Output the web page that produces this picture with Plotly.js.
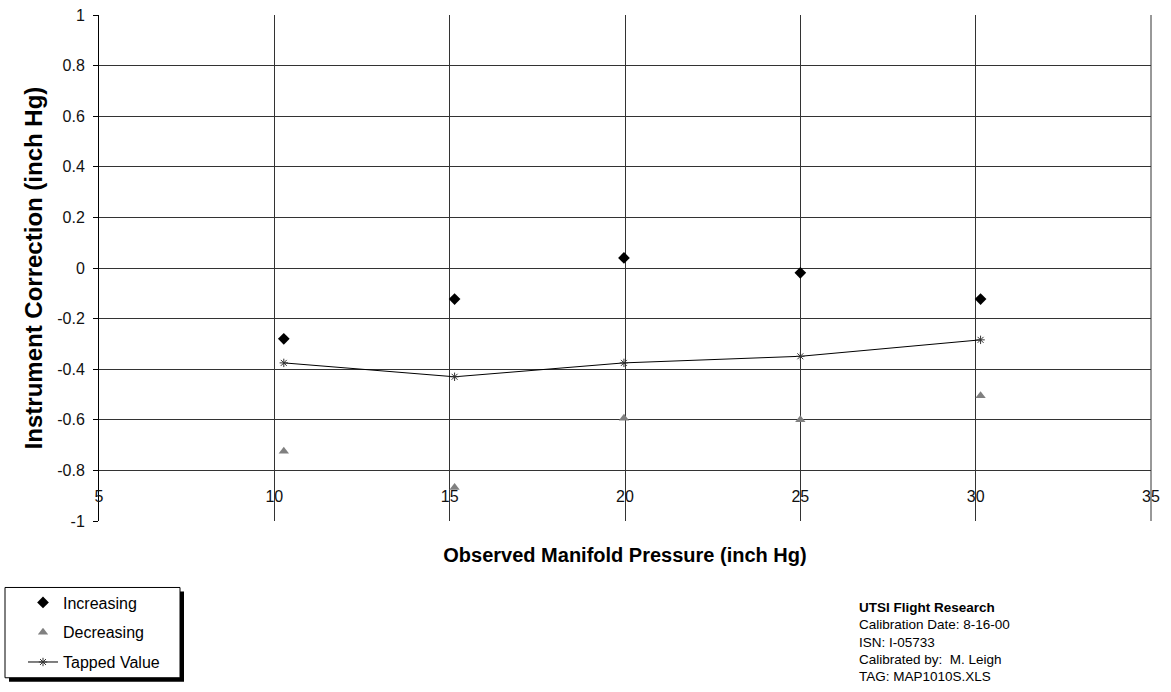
<!DOCTYPE html>
<html>
<head>
<meta charset="utf-8">
<script src="https://cdn.plot.ly/plotly-3.0.1.min.js"></script>
<style>html,body{margin:0;padding:0;background:#fff;}#chart{width:1171px;height:692px;}</style>
</head>
<body>
<div id="chart"></div>
<script>
// Data
const pressure = [10.27, 15.14, 19.97, 25.0, 30.14];
const increasing = [-0.28, -0.123, 0.04, -0.019, -0.123];
const decreasing = [-0.724, -0.868, -0.594, -0.60, -0.505];
const tapped = [-0.375, -0.43, -0.375, -0.349, -0.284];

const xTickVals = [5, 10, 15, 20, 25, 30, 35];
const xTickText = ['5', '10', '15', '20', '25', '30', '35'];
const yTickVals = [-1, -0.8, -0.6, -0.4, -0.2, 0, 0.2, 0.4, 0.6, 0.8, 1];
const yTickText = ['-1', '-0.8', '-0.6', '-0.4', '-0.2', '0', '0.2', '0.4', '0.6', '0.8', '1'];

const infoLines = ['<b>UTSI Flight Research</b>', 'Calibration Date: 8-16-00', 'ISN: I-05733', 'Calibrated by:  M. Leigh', 'TAG: MAP1010S.XLS'];

const FONT = 'Arial, "Liberation Sans", sans-serif';

// plot area in pixels: left 99, right 1151, top 15, bottom 525
const L = 99, R = 1151, T = 15, B = 525;
const px = v => (v - L) / (R - L);
const py = v => (B - v) / (B - T);

const traces = [
  {x: pressure, y: increasing, name: 'Increasing', mode: 'markers', type: 'scatter',
   legendgroup: 'a',
   marker: {symbol: 'diamond', size: 9, color: '#000'}},
  {x: pressure, y: decreasing, name: 'Decreasing', mode: 'markers', type: 'scatter',
   legendgroup: 'b',
   marker: {symbol: 'triangle-up', size: 9, color: '#808080'}},
  {x: pressure, y: tapped, name: 'Tapped Value', mode: 'lines+markers', type: 'scatter',
   legendgroup: 'c',
   line: {color: '#000', width: 1},
   marker: {symbol: 'asterisk-open', size: 7, color: '#333', line: {width: 1, color: '#333'}}}
];

const annotations = infoLines.map((t, i) => ({
  xref: 'paper', yref: 'paper', x: px(857), y: py(612 + i * 17.5),
  xanchor: 'left', yanchor: 'middle', align: 'left', showarrow: false, text: t,
  font: {family: FONT, size: 13.5, color: '#000'}
}));

const layout = {
  width: 1171, height: 692,
  margin: {l: L, r: 1171 - R, t: T, b: 692 - B},
  paper_bgcolor: '#fff', plot_bgcolor: '#fff',
  font: {family: FONT, size: 16, color: '#000'},
  showlegend: true,
  legend: {
    x: px(23), y: py(590), xanchor: 'left', yanchor: 'top',
    bgcolor: 'rgba(0,0,0,0)', borderwidth: 0,
    font: {family: FONT, size: 16, color: '#000'},
    traceorder: 'grouped', tracegroupgap: 6
  },
  xaxis: {
    range: [5, 35], tickvals: xTickVals, ticktext: xTickText,
    anchor: 'free', position: 0.072,
    showgrid: true, gridcolor: '#333', gridwidth: 1,
    zeroline: false, showline: false, ticks: '',
    tickfont: {family: FONT, size: 16, color: '#111'},
    title: {text: '<b>Observed Manifold Pressure (inch Hg)</b>', font: {family: FONT, size: 20, color: '#000'}, standoff: 44},
    automargin: false, fixedrange: true
  },
  yaxis: {
    range: [-1, 1], tickvals: yTickVals, ticktext: yTickText,
    showgrid: true, gridcolor: '#333', gridwidth: 1,
    zeroline: false, showline: true, linecolor: '#000', linewidth: 1,
    ticks: 'outside', ticklen: 5, tickcolor: '#000', ticklabelstandoff: 5,
    tickfont: {family: FONT, size: 16, color: '#111'},
    title: {text: '<b>Instrument Correction (inch Hg)</b>', font: {family: FONT, size: 24, color: '#000'}, standoff: 7},
    automargin: false, fixedrange: true
  },
  shapes: [
    {type: 'line', xref: 'paper', yref: 'paper', layer: 'below',
     x0: 1, x1: 1, y0: 0, y1: 1, line: {color: '#333', width: 1}},
    {type: 'rect', xref: 'paper', yref: 'paper', layer: 'above',
     x0: px(9), x1: px(184), y0: py(596), y1: py(687), fillcolor: '#000', line: {width: 0}},
    {type: 'rect', xref: 'paper', yref: 'paper', layer: 'above',
     x0: px(5), x1: px(180), y0: py(592), y1: py(683), fillcolor: '#fff', line: {color: '#000', width: 1}}
  ],
  annotations: annotations
};

Plotly.newPlot('chart', traces, layout, {displayModeBar: false, staticPlot: true});
</script>
</body>
</html>
